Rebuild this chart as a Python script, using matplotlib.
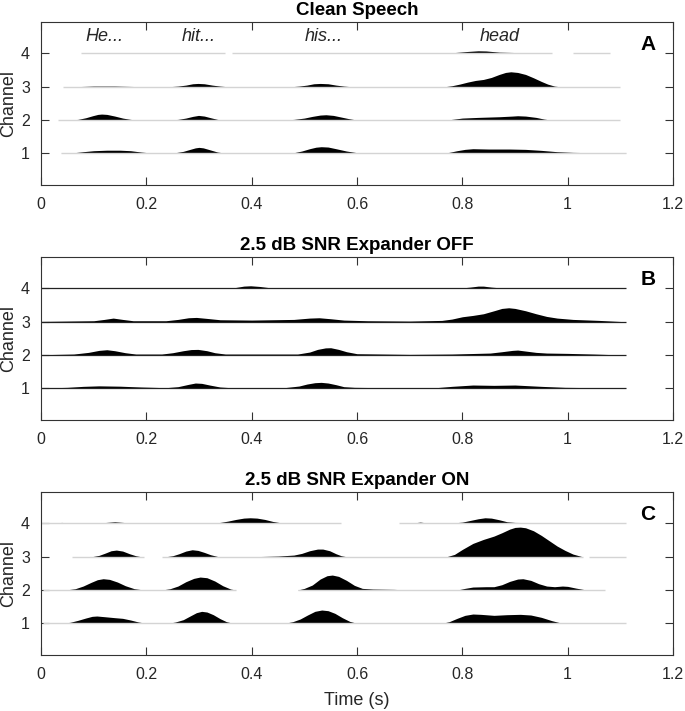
import matplotlib
matplotlib.use("Agg")
import matplotlib.pyplot as plt

plt.rcParams['font.family'] = ['Liberation Sans', 'DejaVu Sans']

# envelope keypoints (time s, height in channel units)
A1 = [(0.037, 0), (0.06, 0.015), (0.08, 0.05), (0.10, 0.08), (0.125, 0.095), (0.15, 0.095), (0.17, 0.08),
      (0.19, 0.04), (0.21, 0.01), (0.225, 0),
      (0.239, 0), (0.255, 0.02), (0.27, 0.06), (0.283, 0.12), (0.293, 0.165), (0.30, 0.18), (0.308, 0.165),
      (0.32, 0.11), (0.335, 0.04), (0.352, 0),
      (0.463, 0), (0.48, 0.02), (0.495, 0.07), (0.51, 0.14), (0.522, 0.185), (0.532, 0.20), (0.545, 0.19),
      (0.56, 0.14), (0.58, 0.07), (0.60, 0.02), (0.616, 0),
      (0.761, 0), (0.775, 0.03), (0.79, 0.08), (0.805, 0.12), (0.82, 0.14), (0.85, 0.13), (0.89, 0.13),
      (0.92, 0.12), (0.95, 0.09), (0.98, 0.05), (1.01, 0.03), (1.06, 0.015), (1.11, 0.01)]
A2 = [(0.054, 0), (0.07, 0.02), (0.085, 0.07), (0.098, 0.13), (0.108, 0.17), (0.115, 0.18), (0.125, 0.17),
      (0.14, 0.12), (0.155, 0.06), (0.17, 0.02), (0.185, 0),
      (0.242, 0), (0.26, 0.02), (0.275, 0.06), (0.288, 0.11), (0.299, 0.14), (0.31, 0.12), (0.322, 0.07),
      (0.335, 0.02), (0.345, 0),
      (0.462, 0), (0.48, 0.02), (0.50, 0.06), (0.515, 0.11), (0.53, 0.15), (0.541, 0.16), (0.555, 0.14),
      (0.57, 0.09), (0.585, 0.04), (0.60, 0),
      (0.77, 0), (0.785, 0.03), (0.80, 0.06), (0.83, 0.08), (0.87, 0.10), (0.895, 0.12), (0.905, 0.13),
      (0.92, 0.12), (0.94, 0.08), (0.955, 0.03), (0.968, 0)]
A3 = [(0.06, 0), (0.1, 0.02), (0.14, 0.02), (0.2, 0),
      (0.241, 0), (0.26, 0.02), (0.275, 0.05), (0.288, 0.09), (0.298, 0.10), (0.31, 0.09), (0.325, 0.05),
      (0.34, 0.02), (0.355, 0),
      (0.474, 0), (0.49, 0.02), (0.505, 0.05), (0.518, 0.09), (0.53, 0.10), (0.545, 0.09), (0.56, 0.05),
      (0.575, 0.02), (0.59, 0),
      (0.766, 0), (0.78, 0.03), (0.795, 0.08), (0.81, 0.14), (0.825, 0.19), (0.84, 0.22), (0.855, 0.28),
      (0.87, 0.37), (0.882, 0.43), (0.892, 0.45), (0.905, 0.43), (0.92, 0.37), (0.935, 0.27), (0.95, 0.16),
      (0.962, 0.08), (0.975, 0.02), (0.985, 0)]
A4 = [(0.753, 0), (0.78, 0.02), (0.81, 0.06), (0.83, 0.08), (0.845, 0.075), (0.87, 0.04), (0.92, 0.02),
      (0.97, 0)]

B1 = [(0, 0.01), (0.05, 0.03), (0.08, 0.06), (0.11, 0.075), (0.15, 0.065), (0.19, 0.04), (0.237, 0.02),
      (0.26, 0.05), (0.28, 0.12), (0.293, 0.16), (0.305, 0.15), (0.32, 0.10), (0.34, 0.04), (0.36, 0.02),
      (0.462, 0.02), (0.49, 0.07), (0.505, 0.13), (0.52, 0.17), (0.532, 0.18), (0.545, 0.16), (0.56, 0.11),
      (0.575, 0.05), (0.595, 0.03), (0.65, 0.02), (0.75, 0.02), (0.78, 0.06), (0.82, 0.10), (0.86, 0.09),
      (0.9, 0.10), (0.95, 0.06), (0.995, 0.03), (1.11, 0.01)]
B2 = [(0, 0.01), (0.062, 0.03), (0.09, 0.08), (0.11, 0.14), (0.125, 0.16), (0.14, 0.13), (0.16, 0.07),
      (0.18, 0.03), (0.229, 0.03), (0.25, 0.07), (0.27, 0.13), (0.285, 0.165), (0.298, 0.17), (0.315, 0.13),
      (0.33, 0.07), (0.35, 0.03), (0.487, 0.03), (0.51, 0.09), (0.525, 0.17), (0.54, 0.215), (0.55, 0.22),
      (0.565, 0.17), (0.58, 0.10), (0.6, 0.04), (0.7, 0.02), (0.78, 0.03), (0.853, 0.06), (0.875, 0.10),
      (0.895, 0.14), (0.905, 0.15), (0.92, 0.12), (0.94, 0.08), (0.96, 0.06), (1.0, 0.05), (1.05, 0.03),
      (1.11, 0.0)]
B3 = [(0, 0.01), (0.1, 0.03), (0.12, 0.07), (0.137, 0.11), (0.155, 0.07), (0.175, 0.03), (0.237, 0.03),
      (0.26, 0.07), (0.28, 0.12), (0.295, 0.13), (0.315, 0.10), (0.34, 0.06), (0.4, 0.05), (0.48, 0.07),
      (0.51, 0.11), (0.528, 0.12), (0.55, 0.09), (0.575, 0.05), (0.62, 0.03), (0.7, 0.02),
      (0.761, 0.04), (0.78, 0.08), (0.80, 0.15), (0.82, 0.19), (0.84, 0.24), (0.86, 0.33), (0.875, 0.40),
      (0.888, 0.42), (0.90, 0.40), (0.92, 0.33), (0.94, 0.24), (0.96, 0.16), (0.98, 0.11), (1.01, 0.07),
      (1.06, 0.04), (1.11, 0.0)]
B4 = [(0, 0.0), (0.1, 0.01), (0.2, 0.0), (0.354, 0.0), (0.37, 0.03), (0.385, 0.07), (0.398, 0.08),
      (0.415, 0.06), (0.435, 0.02), (0.453, 0.0), (0.6, 0.0), (0.7, 0.01), (0.795, 0.01), (0.815, 0.04),
      (0.83, 0.07), (0.84, 0.07), (0.855, 0.04), (0.878, 0.01), (1.0, 0.01), (1.11, 0.0)]

C1 = [(0.037, 0), (0.055, 0.03), (0.07, 0.09), (0.085, 0.16), (0.097, 0.21), (0.106, 0.22), (0.12, 0.20),
      (0.14, 0.17), (0.155, 0.15), (0.17, 0.10), (0.185, 0.04), (0.2, 0),
      (0.241, 0), (0.255, 0.04), (0.27, 0.11), (0.283, 0.22), (0.295, 0.32), (0.305, 0.36), (0.315, 0.34),
      (0.327, 0.26), (0.34, 0.14), (0.352, 0.05), (0.365, 0),
      (0.462, 0), (0.478, 0.05), (0.492, 0.13), (0.506, 0.25), (0.52, 0.36), (0.533, 0.40), (0.545, 0.38),
      (0.558, 0.30), (0.572, 0.17), (0.586, 0.06), (0.60, 0),
      (0.761, 0), (0.775, 0.05), (0.79, 0.15), (0.805, 0.24), (0.82, 0.28), (0.835, 0.27), (0.86, 0.24),
      (0.885, 0.26), (0.91, 0.27), (0.93, 0.25), (0.95, 0.18), (0.97, 0.08), (0.985, 0.02), (0.995, 0)]
C2 = [(0.046, 0), (0.065, 0.04), (0.08, 0.12), (0.095, 0.23), (0.107, 0.31), (0.118, 0.34), (0.13, 0.32),
      (0.145, 0.24), (0.16, 0.13), (0.177, 0.04), (0.196, 0),
      (0.229, 0), (0.245, 0.04), (0.26, 0.12), (0.275, 0.25), (0.29, 0.35), (0.302, 0.39), (0.315, 0.37),
      (0.33, 0.27), (0.345, 0.13), (0.36, 0.03), (0.37, 0),
      (0.487, 0), (0.50, 0.05), (0.515, 0.15), (0.53, 0.33), (0.543, 0.43), (0.553, 0.45), (0.565, 0.41),
      (0.58, 0.29), (0.595, 0.14), (0.61, 0.05), (0.63, 0.03), (0.67, 0.02), (0.70, 0),
      (0.79, 0), (0.805, 0.05), (0.82, 0.09), (0.845, 0.10), (0.86, 0.10), (0.875, 0.16), (0.89, 0.26),
      (0.905, 0.33), (0.915, 0.34), (0.93, 0.29), (0.945, 0.19), (0.96, 0.12), (0.975, 0.10), (0.99, 0.12),
      (1.0, 0.11), (1.015, 0.06), (1.036, 0)]
C3 = [(0.096, 0), (0.11, 0.04), (0.122, 0.11), (0.133, 0.18), (0.143, 0.20), (0.155, 0.17), (0.168, 0.09),
      (0.18, 0.03), (0.19, 0),
      (0.237, 0), (0.25, 0.03), (0.262, 0.09), (0.275, 0.17), (0.287, 0.21), (0.298, 0.19), (0.31, 0.13),
      (0.322, 0.06), (0.337, 0),
      (0.40, 0), (0.45, 0.02), (0.48, 0.05), (0.495, 0.10), (0.51, 0.18), (0.525, 0.23), (0.535, 0.23),
      (0.548, 0.18), (0.56, 0.09), (0.57, 0.03), (0.58, 0),
      (0.77, 0), (0.785, 0.07), (0.80, 0.22), (0.82, 0.40), (0.84, 0.52), (0.86, 0.62), (0.875, 0.72),
      (0.89, 0.83), (0.90, 0.88), (0.91, 0.89), (0.92, 0.87), (0.935, 0.78), (0.95, 0.64), (0.965, 0.48),
      (0.98, 0.32), (0.995, 0.19), (1.01, 0.08), (1.028, 0)]
C4 = [(0.0, 0), (0.02, 0.02), (0.04, 0.03), (0.06, 0), (0.10, 0), (0.14, 0.05), (0.18, 0),
      (0.32, 0), (0.34, 0.03), (0.355, 0.07), (0.37, 0.12), (0.385, 0.16), (0.397, 0.17), (0.41, 0.16),
      (0.425, 0.12), (0.44, 0.06), (0.455, 0.02), (0.465, 0),
      (0.70, 0), (0.72, 0.04), (0.74, 0), (0.78, 0.01), (0.80, 0.04), (0.815, 0.09), (0.83, 0.14),
      (0.843, 0.17), (0.855, 0.16), (0.87, 0.11), (0.885, 0.05), (0.9, 0.03), (0.95, 0.02), (1.0, 0.01),
      (1.02, 0.02), (1.04, 0), (1.11, 0)]

# spans where the thin baseline is drawn
A_base = [[(0.037, 1.11)], [(0.033, 1.10)], [(0.042, 1.10)], [(0.075, 0.35), (0.362, 0.97), (1.01, 1.08)]]
B_base = [[(0.0, 1.11)], [(0.0, 1.11)], [(0.0, 1.11)], [(0.0, 1.11)]]
C_base = [[(0.004, 1.11)], [(0.004, 0.37), (0.487, 1.07)], [(0.058, 0.196), (0.229, 1.03), (1.04, 1.11)],
          [(0.0, 0.57), (0.68, 1.11)]]

titles = ['Clean Speech', '2.5 dB SNR Expander OFF', '2.5 dB SNR Expander ON']
letters = ['A', 'B', 'C']
words = ['He...', 'hit...', 'his...', 'head']
word_t = [0.12, 0.30, 0.536, 0.87]

panels = [[A1, A2, A3, A4], [B1, B2, B3, B4], [C1, C2, C3, C4]]
bases = [A_base, B_base, C_base]
base_col = ['#d4d4d4', '#222222', '#d4d4d4']
base_lw = [1.0, 0.9, 1.0]

fig = plt.figure(figsize=(6.85, 7.11), dpi=100)
bottoms = [0.7398, 0.4093, 0.0788]
h = 0.2295
axes = []
for i in range(3):
    ax = fig.add_axes([0.0599, bottoms[i], 0.9226, h])
    axes.append(ax)
    for ch in range(4):
        for s, e in bases[i][ch]:
            ax.plot([s, e], [ch + 1, ch + 1], color=base_col[i], lw=base_lw[i], solid_capstyle='butt')
        t = [p[0] for p in panels[i][ch]]
        v = [ch + 1 + p[1] for p in panels[i][ch]]
        ax.fill_between(t, ch + 1, v, color='black', lw=0)
    ax.set_xlim(0, 1.2)
    ax.set_ylim(0.05, 4.95)
    ax.set_xticks([0, 0.2, 0.4, 0.6, 0.8, 1, 1.2])
    ax.set_xticklabels(['0', '0.2', '0.4', '0.6', '0.8', '1', '1.2'])
    ax.set_yticks([1, 2, 3, 4])
    ax.tick_params(direction='in', length=6, width=0.8, color='#333333', labelcolor='#262626',
                   labelsize=11.5, top=True, right=True)
    ax.tick_params(axis='y', pad=8)
    ax.tick_params(axis='x', pad=8.5)
    for sp in ax.spines.values():
        sp.set_color('#333333')
        sp.set_linewidth(0.8)
    ax.set_ylabel('Channel', fontsize=13, color='#262626', labelpad=3)
    ax.set_title(titles[i], fontsize=13.5, fontweight='bold', pad=5)
    ax.text(1.152, 4.27, letters[i], fontsize=15, fontweight='bold', ha='center', va='center')

for w, tw in zip(words, word_t):
    axes[0].text(tw, 4.52, w, fontsize=13, style='italic', ha='center', va='center', color='#262626')

axes[2].set_xlabel('Time (s)', fontsize=13, color='#262626', labelpad=7)

fig.savefig('out.png', dpi=100)
